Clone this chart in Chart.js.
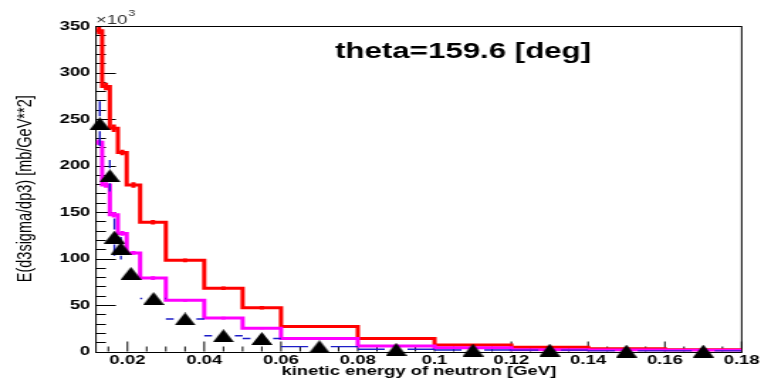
<!DOCTYPE html>
<html>
<head>
<meta charset="utf-8">
<script src="https://cdn.jsdelivr.net/npm/chart.js@4.4.1/dist/chart.umd.min.js"></script>
<style>
  html, body { margin: 0; padding: 0; background: #fff; overflow: hidden; }
  #wrap {
    position: absolute; left: 0; top: 0;
    width: 536px; height: 379px;
    transform: scaleX(1.41978); transform-origin: 0 0;
  }
</style>
</head>
<body>
<div id="wrap"><canvas id="c"></canvas></div>
<script>
// Histogram bin edges (kinetic energy, GeV)
const binEdges = [0.0118, 0.0134, 0.0154, 0.0175, 0.0198, 0.0233, 0.03, 0.04, 0.05, 0.06, 0.08, 0.10, 0.12, 0.14, 0.16, 0.18];

// Red histogram (x10^3 mb/GeV^2) and its errors
const redValues = [345, 285, 240, 214, 179, 139, 98, 68, 47, 27, 14, 7, 4.5, 3, 2];
const redErrors = [4, 4, 4, 3, 3, 2.5, 2, 2, 1.8, 1.5, 1, 0.8, 0.6, 0.5, 0.5];

// Magenta histogram and its errors
const magentaValues = [225, 179, 147, 127, 106, 79, 55, 36, 25, 14, 6, 4, 1.8, 1.6, 1.4];
const magentaErrors = [3, 3, 3, 2.5, 2, 2, 1.5, 1.5, 1.2, 1, 0.8, 0.6, 0.4, 0.4, 0.3];

// Measured points (triangles) with blue error bars
const dataX     = [0.0128, 0.0154, 0.0166, 0.0183, 0.0209, 0.0268, 0.035, 0.045, 0.055, 0.07, 0.09, 0.11, 0.13, 0.15, 0.17];
const dataY     = [245, 189, 123, 111, 84, 57, 35, 17, 14, 5.2, 2.4, 1.6, 1.5, 0.5, 0.5];
const dataYErr  = [24, 17, 20, 12, 8, 5, 3, 2, 2, 1.2, 0.6, 0.5, 0.4, 0.3, 0.3];
const dataXLow  = [0.0118, 0.0146, 0.0160, 0.0175, 0.0198, 0.0233, 0.03, 0.04, 0.05, 0.06, 0.08, 0.10, 0.12, 0.14, 0.16];
const dataXHigh = [0.0134, 0.0162, 0.0172, 0.0192, 0.0233, 0.03, 0.04, 0.05, 0.06, 0.08, 0.10, 0.12, 0.14, 0.16, 0.18];

// Axis tick labels
const xTicks = [0.02, 0.04, 0.06, 0.08, 0.10, 0.12, 0.14, 0.16, 0.18];
const yTicks = [0, 50, 100, 150, 200, 250, 300, 350];

const plotTitle = 'theta=159.6 [deg]';
const xTitle = 'kinetic energy of neutron [GeV]';
const yTitle = 'E(d3sigma/dp3) [mb/GeV**2]';

const FONT = '"Liberation Sans", Arial, Helvetica, sans-serif';

// one point per bin edge; the step holds each bin's value until the next edge
function stepPoints(values) {
  const pts = values.map((v, i) => ({ x: binEdges[i], y: v }));
  pts.push({ x: binEdges[values.length], y: values[values.length - 1] });
  return pts;
}

function triangleMarker(w, h) {
  const c = document.createElement('canvas');
  c.width = w; c.height = h;
  const g = c.getContext('2d');
  g.fillStyle = '#000';
  g.beginPath();
  g.moveTo(w / 2, 0); g.lineTo(w, h); g.lineTo(0, h);
  g.closePath(); g.fill();
  return c;
}

// minor tick values between major ticks, extended down to the axis minimum
function minorTicks(majors, n, min, max) {
  const step = (majors[1] - majors[0]) / n;
  const out = [];
  for (let v = majors[0] - step; v >= min - 1e-9; v -= step) out.push(v);
  for (let i = 0; i < majors.length; i++) {
    for (let k = 1; k < n; k++) {
      const v = majors[i] + k * step;
      if (v <= max + 1e-9) out.push(v);
    }
  }
  return out;
}

const framePlugin = {
  id: 'frame',
  beforeDatasetsDraw(chart) {
    const { ctx, chartArea: a, scales: { x, y } } = chart;
    ctx.save();
    ctx.strokeStyle = '#000';
    ctx.lineWidth = 1;
    ctx.strokeRect(a.left, Math.round(a.top) + 0.5, a.right - a.left, Math.round(a.bottom) - Math.round(a.top));
    ctx.beginPath();
    // y ticks, drawn inward from the left frame
    yTicks.forEach(v => {
      const py = Math.round(y.getPixelForValue(v)) + 0.5;
      ctx.moveTo(a.left, py); ctx.lineTo(a.left + 14, py);
    });
    minorTicks(yTicks, 5, y.min, y.max).forEach(v => {
      const py = Math.round(y.getPixelForValue(v)) + 0.5;
      ctx.moveTo(a.left, py); ctx.lineTo(a.left + 7, py);
    });
    // x ticks, drawn upward from the bottom frame
    xTicks.forEach(v => {
      const px = x.getPixelForValue(v);
      ctx.moveTo(px, a.bottom); ctx.lineTo(px, a.bottom - 10);
    });
    minorTicks(xTicks, 4, x.min, x.max).forEach(v => {
      const px = x.getPixelForValue(v);
      ctx.moveTo(px, a.bottom); ctx.lineTo(px, a.bottom - 5);
    });
    ctx.stroke();
    ctx.restore();
  },
  beforeDatasetDraw(chart, args) {
    if (args.index !== 0) return;
    // blue error bars of the measured points, with a gap around each marker
    const { ctx, chartArea: a, scales: { x, y } } = chart;
    const gapX = 8, gapY = 7.5;
    ctx.save();
    ctx.beginPath();
    ctx.rect(a.left, a.top, a.right - a.left, a.bottom - a.top);
    ctx.clip();
    ctx.strokeStyle = '#1c1cc8';
    ctx.lineWidth = 1.4;
    ctx.beginPath();
    dataX.forEach((xv, i) => {
      const px = x.getPixelForValue(xv);
      const py = y.getPixelForValue(dataY[i]);
      const xl = x.getPixelForValue(dataXLow[i]);
      const xh = x.getPixelForValue(dataXHigh[i]);
      if (xl < px - gapX) { ctx.moveTo(xl, py); ctx.lineTo(px - gapX, py); }
      if (xh > px + gapX) { ctx.moveTo(px + gapX, py); ctx.lineTo(xh, py); }
      const yt = y.getPixelForValue(dataY[i] + dataYErr[i]);
      const yb = y.getPixelForValue(Math.max(0, dataY[i] - dataYErr[i]));
      if (yt < py - gapY) { ctx.moveTo(px, yt); ctx.lineTo(px, py - gapY); }
      if (yb > py + gapY) { ctx.moveTo(px, py + gapY); ctx.lineTo(px, yb); }
    });
    ctx.stroke();
    ctx.restore();
  },
  afterDatasetDraw(chart, args) {
    const sets = { 1: [magentaValues, magentaErrors, '#ff00ff'], 2: [redValues, redErrors, '#ff0000'] };
    const s = sets[args.index];
    if (!s) return;
    const [vals, errs, color] = s;
    const { ctx, chartArea: a, scales: { x, y } } = chart;
    ctx.save();
    ctx.beginPath();
    ctx.rect(a.left, a.top, a.right - a.left, a.bottom - a.top);
    ctx.clip();
    ctx.strokeStyle = color;
    ctx.lineWidth = 3;
    ctx.lineCap = 'butt';
    ctx.beginPath();
    vals.forEach((v, i) => {
      const px = x.getPixelForValue((binEdges[i] + binEdges[i + 1]) / 2);
      ctx.moveTo(px, y.getPixelForValue(v + errs[i]));
      ctx.lineTo(px, y.getPixelForValue(Math.max(0, v - errs[i])));
    });
    ctx.stroke();
    ctx.restore();
  },
  afterDraw(chart) {
    const { ctx, chartArea: a } = chart;
    ctx.save();
    ctx.fillStyle = '#000';
    ctx.textBaseline = 'alphabetic';
    ctx.textAlign = 'left';
    ctx.font = 'bold 22px ' + FONT;
    ctx.fillText(plotTitle, 236, 58);
    // exponent of the y axis
    ctx.fillStyle = '#333';
    ctx.font = '13px ' + FONT;
    ctx.fillText('\u00d710', a.left, 23.5);
    const w = ctx.measureText('\u00d710').width;
    ctx.font = '9px ' + FONT;
    ctx.fillText('3', a.left + w + 0.5, 16);
    ctx.restore();
  }
};

const fmt = v => String(+Number(v).toFixed(3));

new Chart(document.getElementById('c'), {
  type: 'scatter',
  data: {
    datasets: [
      {
        label: 'data',
        data: dataX.map((v, i) => ({ x: v, y: dataY[i] })),
        pointStyle: triangleMarker(15, 13),
        pointRadius: 7,
        clip: false,
        order: 0
      },
      {
        type: 'line',
        label: 'magenta',
        data: stepPoints(magentaValues),
        stepped: 'before',
        borderColor: '#ff00ff',
        borderWidth: 3,
        borderJoinStyle: 'miter',
        pointRadius: 0,
        fill: false,
        order: 0
      },
      {
        type: 'line',
        label: 'red',
        data: stepPoints(redValues),
        stepped: 'before',
        borderColor: '#ff0000',
        borderWidth: 3,
        borderJoinStyle: 'miter',
        pointRadius: 0,
        fill: false,
        order: 0
      }
    ]
  },
  options: {
    responsive: true,
    maintainAspectRatio: false,
    animation: false,
    events: [],
    layout: { padding: { top: 26, right: 11.4, left: 0, bottom: 0 } },
    plugins: { legend: { display: false }, tooltip: { enabled: false } },
    scales: {
      x: {
        type: 'linear',
        min: binEdges[0],
        max: binEdges[binEdges.length - 1],
        afterBuildTicks: s => { s.ticks = xTicks.map(v => ({ value: v })); },
        afterFit: s => { s.height = 27.5; },
        grid: { display: false, drawTicks: false },
        border: { display: false },
        ticks: {
          autoSkip: false, maxRotation: 0, padding: 1,
          color: '#000', font: { family: FONT, size: 13, weight: 'bold' },
          callback: v => fmt(v)
        },
        title: {
          display: true, text: xTitle, color: '#000',
          font: { family: FONT, size: 13, weight: 'bold' },
          padding: { top: 0, bottom: 0 }
        }
      },
      y: {
        type: 'linear',
        min: 0,
        max: 350,
        afterBuildTicks: s => { s.ticks = yTicks.map(v => ({ value: v })); },
        afterFit: s => { s.width = 67.6; },
        grid: { display: false, drawTicks: false },
        border: { display: false },
        ticks: {
          padding: 4, color: '#000',
          font: { family: FONT, size: 13, weight: 'bold' },
          callback: v => fmt(v)
        },
        title: {
          display: true, text: yTitle, color: '#000',
          font: { family: FONT, size: 14.5, weight: 'normal' },
          padding: { top: 9, bottom: 0 }
        }
      }
    }
  },
  plugins: [framePlugin]
});
</script>
</body>
</html>
